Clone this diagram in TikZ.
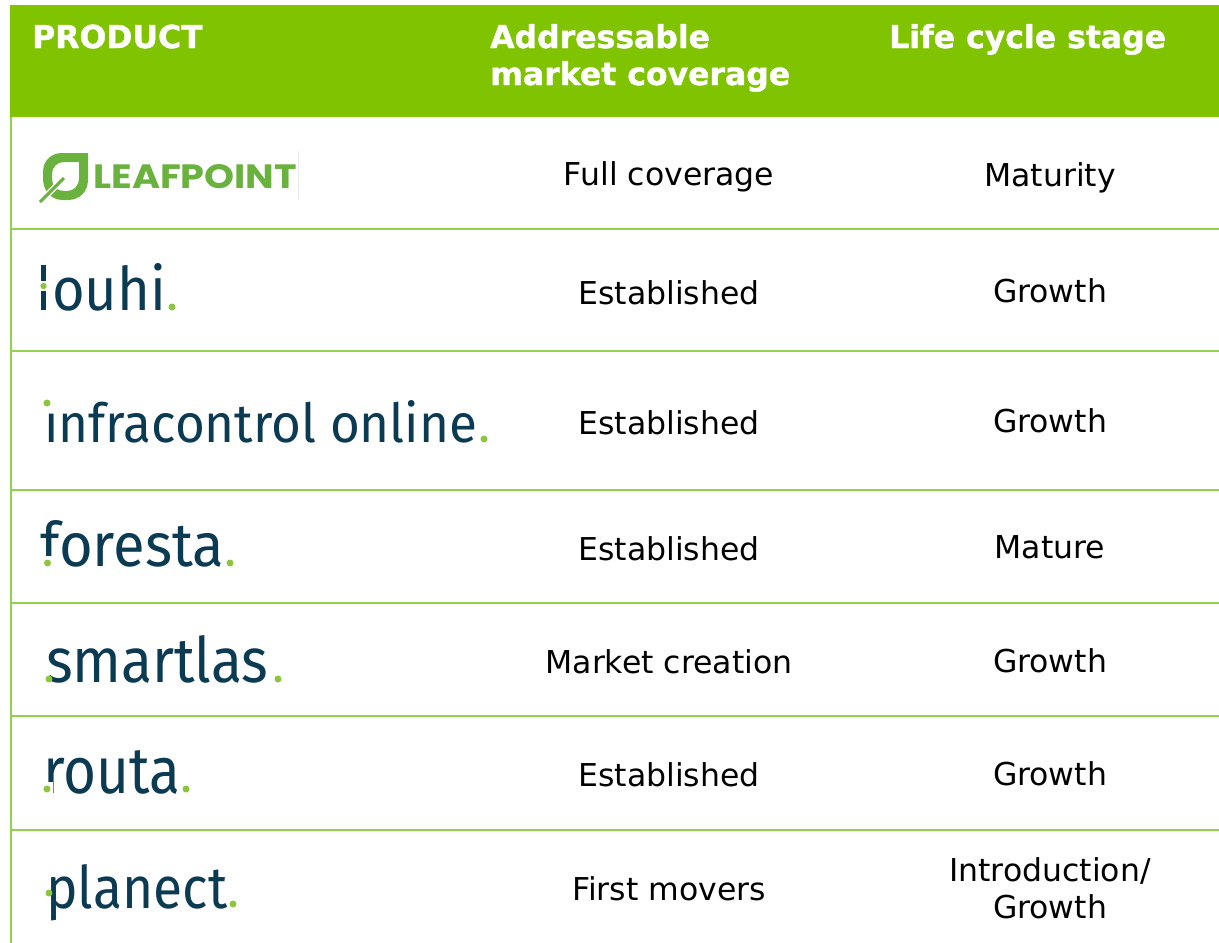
\documentclass[tikz,border=0pt]{standalone}
\usepackage{fontspec}
\usepackage{graphicx}
\setmainfont{DejaVu Sans}
\newfontfamily\hdrfont{DejaVu Sans}[BoldFeatures={FakeBold=1.2}]
\newfontfamily\logofont{Fira Sans}
\newfontfamily\leaffont{Poppins}
\definecolor{hdrgreen}{HTML}{80C300}
\definecolor{linegreen}{HTML}{92D050}
\definecolor{logoblue}{HTML}{0B3A53}
\definecolor{dotgreen}{HTML}{8CC63E}
\definecolor{leafgreen}{HTML}{6AB23E}
\tikzset{
  cell/.style={font=\fontsize{31.5}{37}\selectfont, inner sep=0pt, anchor=base, text=black},
  head/.style={font=\hdrfont\fontsize{31.5}{37}\selectfont\bfseries, inner sep=0pt, anchor=base west, text=white},
  logo/.style={inner sep=0pt, anchor=base west, text=logoblue},
  gdot/.style={fill=dotgreen, draw=none},
  rowrule/.style={draw=linegreen, line width=1.4pt},
}
\begin{document}
\begin{tikzpicture}[x=1pt,y=-1pt]
\useasboundingbox (0,0) rectangle (1219,943);
\fill[white] (0,0) rectangle (1219,943);
% header
\fill[hdrgreen] (10,5) rectangle (1219,117);
\node[head] (hprod) at (32,48) {PRODUCT};
\node[head] (haddr1) at (490,48) {Addressable};
\node[head] (haddr2) at (490,85) {market coverage};
\node[head] (hlife) at (889,48) {Life cycle stage};
% grid lines
\draw[rowrule] (11,117) -- (11,943);
\foreach \yy in {229,351,490,603,716,830} {
  \draw[rowrule] (11,\yy) -- (1219,\yy);
}
% row 1: LEAFPOINT
\fill[leafgreen, even odd rule]
  (62,153) -- (88,153) -- (88,180) .. controls (88,191) and (80,200) .. (68,200) -- (63,200)
  .. controls (51,200) and (43,191) .. (43,178) -- (43,172) .. controls (43,161) and (51,153) .. (62,153) -- cycle
  (64,162) -- (79,162) -- (79,178) .. controls (79,186) and (74,191) .. (67,191) -- (64,191)
  .. controls (57,191) and (52,186) .. (52,179) -- (52,174) .. controls (52,167) and (57,162) .. (64,162) -- cycle;
\draw[white, line width=6pt] (44,198) -- (61,181);
\draw[leafgreen, line width=3pt] (40,202) -- (64,178);
\node[logo, text=leafgreen] (leafpoint) at (93,188) {\resizebox{204pt}{24pt}{\leaffont\bfseries LEAFPOINT}};
\draw[black!8, line width=0.8pt] (298,151) -- (298,200);
\node[cell] (c1) at (669,185) {Full coverage};
\node[cell] (s1) at (1050,186) {Maturity};
% row 2: louhi
\fill[logoblue] (41,265) rectangle (46,281);
\fill[logoblue] (41,291) rectangle (46,310);
\fill[gdot] (43.5,286) circle (3.2pt);
\node[logo] (louhi) at (52,310) {\resizebox{114pt}{47pt}{\logofont ouhi}};
\fill[gdot] (172,307) circle (3.5pt);
\node[cell] (c2) at (669,304) {Established};
\node[cell] (s2) at (1050,302) {Growth};
% row 3: infracontrol online
\node[logo] (infra) at (44,442) {\resizebox{433pt}{42pt}{\logofont ınfracontrol online}};
\fill[gdot] (47,403) circle (3.5pt);
\fill[gdot] (484,439) circle (3.5pt);
\node[cell] (c3) at (669,434) {Established};
\node[cell] (s3) at (1050,432) {Growth};
% row 4: foresta
\node[logo] (foresta) at (40,566) {\resizebox{184pt}{46pt}{\logofont foresta}};
\fill[white] (43,556) rectangle (53,567);
\fill[gdot] (47.5,563) circle (3.5pt);
\fill[gdot] (230,563) circle (3.5pt);
\node[cell] (c4) at (669,560) {Established};
\node[cell] (s4) at (1050,558) {Mature};
% row 5: smartlas
\node[logo] (smartlas) at (46,682) {\resizebox{222pt}{47pt}{\logofont smartlas}};
\fill[gdot] (49,679) circle (3.5pt);
\fill[gdot] (278,679) circle (3.5pt);
\node[cell] (c5) at (669,673) {Market creation};
\node[cell] (s5) at (1050,672) {Growth};
% row 6: routa
\node[logo] (routa) at (43,793) {\resizebox{137pt}{43pt}{\logofont routa}};
\fill[white] (42,782) rectangle (53,794);
\fill[gdot] (47,789) circle (3.5pt);
\fill[gdot] (186,789) circle (3.5pt);
\node[cell] (c6) at (669,786) {Established};
\node[cell] (s6) at (1050,785) {Growth};
% row 7: planect
\node[logo] (planect) at (46,908) {\resizebox{181pt}{44pt}{\logofont planect}};
\fill[gdot] (49,893) circle (3.5pt);
\fill[gdot] (233,904) circle (3.5pt);
\node[cell] (c7) at (669,900) {First movers};
\node[cell] (s7a) at (1050,881) {Introduction/};
\node[cell] (s7b) at (1050,918) {Growth};
\end{tikzpicture}
\end{document}
